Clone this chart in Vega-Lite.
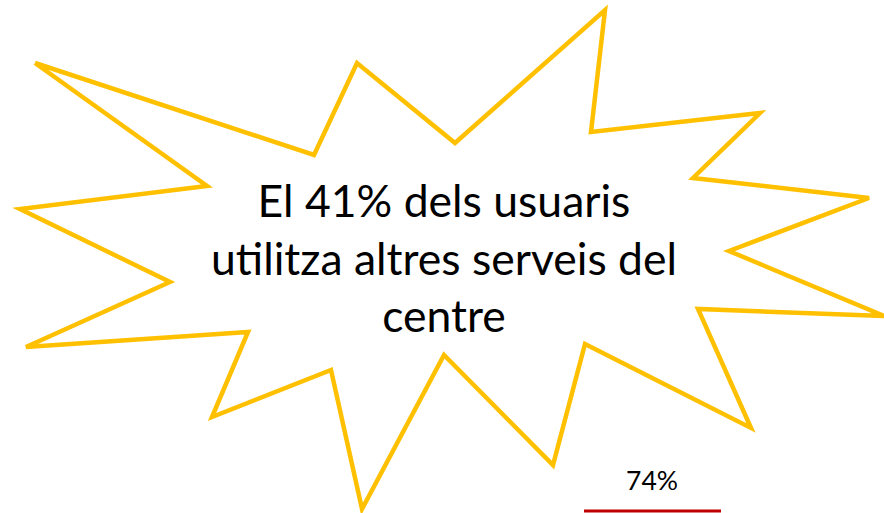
{
  "$schema": "https://vega.github.io/schema/vega-lite/v6.json",
  "width": 884,
  "height": 513,
  "autosize": {"type": "none"},
  "padding": 0,
  "background": "white",
  "config": {"view": {"stroke": null}},
  "datasets": {
    "burst": [
      {"i": 1, "x": 35, "y": 63},
      {"i": 2, "x": 314, "y": 155},
      {"i": 3, "x": 357, "y": 63},
      {"i": 4, "x": 455, "y": 143},
      {"i": 5, "x": 605, "y": 10},
      {"i": 6, "x": 591, "y": 132},
      {"i": 7, "x": 760, "y": 113},
      {"i": 8, "x": 693, "y": 178},
      {"i": 9, "x": 869, "y": 198},
      {"i": 10, "x": 729, "y": 251},
      {"i": 11, "x": 884, "y": 316},
      {"i": 12, "x": 698, "y": 309},
      {"i": 13, "x": 751, "y": 428},
      {"i": 14, "x": 585, "y": 344},
      {"i": 15, "x": 553, "y": 465},
      {"i": 16, "x": 444, "y": 355},
      {"i": 17, "x": 362, "y": 509},
      {"i": 18, "x": 331, "y": 370},
      {"i": 19, "x": 212, "y": 417},
      {"i": 20, "x": 248, "y": 332},
      {"i": 21, "x": 26, "y": 347},
      {"i": 22, "x": 170, "y": 282},
      {"i": 23, "x": 20, "y": 209},
      {"i": 24, "x": 207, "y": 186},
      {"i": 25, "x": 35, "y": 63}
    ],
    "headline": [
      {"label": "El 41% dels usuaris\nutilitza altres serveis del\ncentre", "x": 444, "y": 217}
    ],
    "bar": [
      {"label": "74%", "x": 584, "x2": 721, "xm": 652, "y": 511, "ty": 490}
    ]
  },
  "layer": [
    {
      "data": {"name": "burst"},
      "mark": {"type": "line", "color": "#FFC000", "strokeWidth": 4.5, "strokeJoin": "miter", "strokeMiterLimit": 4},
      "encoding": {
        "x": {"field": "x", "type": "quantitative", "scale": {"domain": [0, 884], "nice": false, "zero": false}, "axis": null},
        "y": {"field": "y", "type": "quantitative", "scale": {"domain": [0, 513], "nice": false, "zero": false, "reverse": true}, "axis": null},
        "order": {"field": "i", "type": "quantitative"}
      }
    },
    {
      "data": {"name": "headline"},
      "mark": {"type": "text", "font": "Lato", "fontSize": 44.5, "color": "black", "align": "center", "baseline": "alphabetic", "lineBreak": "\n", "lineHeight": 57.5},
      "encoding": {
        "x": {"field": "x", "type": "quantitative"},
        "y": {"field": "y", "type": "quantitative"},
        "text": {"field": "label"}
      }
    },
    {
      "data": {"name": "bar"},
      "mark": {"type": "rule", "color": "#C00000", "strokeWidth": 3},
      "encoding": {
        "x": {"field": "x", "type": "quantitative"},
        "x2": {"field": "x2"},
        "y": {"field": "y", "type": "quantitative"}
      }
    },
    {
      "data": {"name": "bar"},
      "mark": {"type": "text", "font": "Lato", "fontSize": 26.5, "color": "black", "align": "center", "baseline": "alphabetic"},
      "encoding": {
        "x": {"field": "xm", "type": "quantitative"},
        "y": {"field": "ty", "type": "quantitative"},
        "text": {"field": "label"}
      }
    }
  ]
}
